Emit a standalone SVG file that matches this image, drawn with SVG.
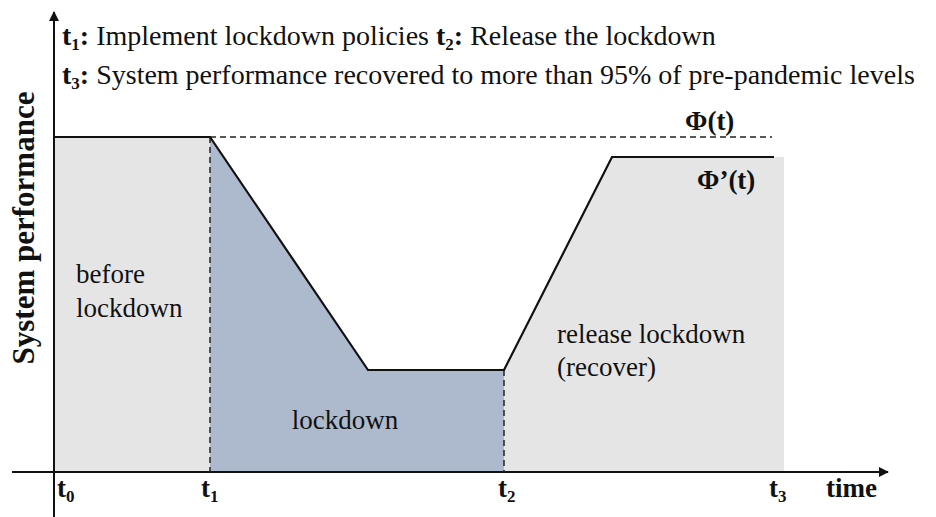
<svg xmlns="http://www.w3.org/2000/svg" width="936" height="517" viewBox="0 0 936 517">
<defs>
<style>
text{font-family:"Liberation Serif","Times New Roman",serif;fill:#111;}
.reg{font-size:27px;}
.hdr{font-size:28px;}
.b{font-weight:bold;}
.lbl{font-size:27px;font-weight:bold;}
.ylbl{font-size:31px;font-weight:bold;}
.sub{font-size:17px;}
.ax{stroke:#111;stroke-width:2;fill:none;}
.curve{stroke:#111;stroke-width:2.2;fill:none;}
.dash{stroke:#222;stroke-width:1.5;stroke-dasharray:6,4;fill:none;}
</style>
<marker id="arr" viewBox="0 0 10 10" refX="9" refY="5" markerWidth="10" markerHeight="10" markerUnits="userSpaceOnUse" orient="auto">
<path d="M0,0 L10,5 L0,10 z" fill="#111"/>
</marker>
</defs>
<rect width="936" height="517" fill="#fff"/>
<g id="regions">
<rect id="before-fill" x="54" y="137" width="156" height="335" fill="#e5e5e5"/>
<polygon id="lockdown-fill" points="210,137 368,370 504,370 504,472 210,472" fill="#adb9cc"/>
<polygon id="release-fill" points="504,370 612,157 784,157 784,472 504,472" fill="#e5e5e5"/>
</g>
<g id="connectors">
<line class="ax" x1="54" y1="517" x2="54" y2="12" marker-end="url(#arr)"/>
<line class="ax" x1="12" y1="472" x2="888" y2="472" marker-end="url(#arr)"/>
<line class="dash" x1="210" y1="137" x2="772" y2="137"/>
<line class="dash" x1="210" y1="137" x2="210" y2="472"/>
<line class="dash" x1="504" y1="370" x2="504" y2="472"/>
<polyline class="curve" points="54,137 210,137 368,370 504,370 612,157 774,157"/>
</g>
<g id="legend">
<text class="hdr" x="62" y="45"><tspan class="b">t<tspan class="sub" dy="5">1</tspan><tspan dy="-5">:</tspan></tspan> Implement lockdown policies <tspan class="b">t<tspan class="sub" dy="5">2</tspan><tspan dy="-5">:</tspan></tspan> Release the lockdown</text>
<text class="hdr" x="62" y="84"><tspan class="b">t<tspan class="sub" dy="5">3</tspan><tspan dy="-5">:</tspan></tspan> System performance recovered to more than 95% of pre-pandemic levels</text>
</g>
<g id="y-label"><text class="ylbl" transform="translate(34,228) rotate(-90)" text-anchor="middle">System performance</text></g>
<g id="phi"><text class="lbl" x="685" y="130">Φ(t)</text></g>
<g id="phi-prime"><text class="lbl" x="697" y="189">Φ’(t)</text></g>
<g id="before"><text class="reg" x="76" y="283">before</text><text class="reg" x="76" y="317">lockdown</text></g>
<g id="lockdown"><text class="reg" x="345" y="429" text-anchor="middle">lockdown</text></g>
<g id="release"><text class="reg" x="557" y="343">release lockdown</text><text class="reg" x="557" y="376">(recover)</text></g>
<g id="ticks">
<text class="lbl" x="57" y="497">t<tspan class="sub" dy="5">0</tspan></text>
<text class="lbl" x="201" y="497">t<tspan class="sub" dy="5">1</tspan></text>
<text class="lbl" x="498" y="497">t<tspan class="sub" dy="5">2</tspan></text>
<text class="lbl" x="769" y="497">t<tspan class="sub" dy="5">3</tspan></text>
<text class="lbl" x="826" y="497">time</text>
</g>
</svg>
